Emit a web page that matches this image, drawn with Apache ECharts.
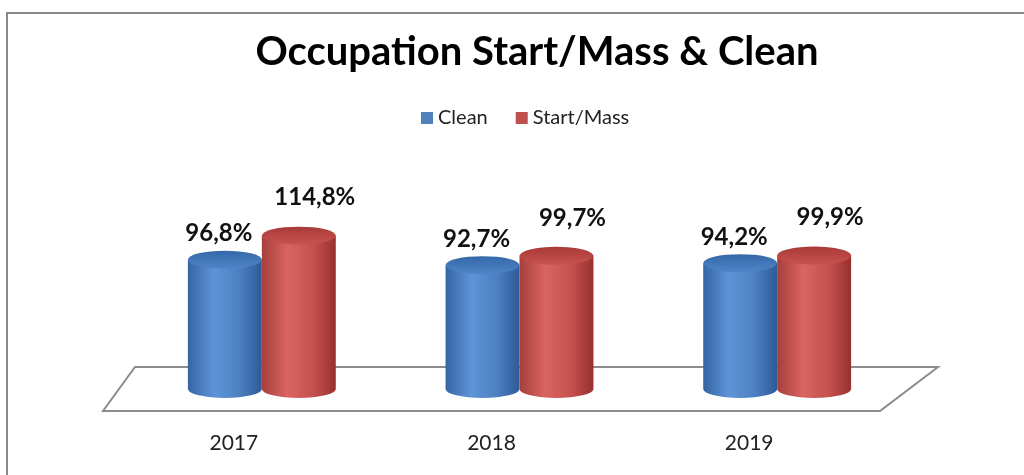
<!DOCTYPE html>
<html>
<head>
<meta charset="utf-8">
<script src="https://cdn.jsdelivr.net/npm/echarts@6/dist/echarts.min.js"></script>
<style>
html,body{margin:0;padding:0;background:#fff;}
#main{width:1024px;height:475px;}
</style>
</head>
<body>
<div id="main"></div>
<script>
var years = ['2017', '2018', '2019'];
var cleanValues = [96.8, 92.7, 94.2];
var startMassValues = [114.8, 99.7, 99.9];
var seriesNames = ['Clean', 'Start/Mass'];

var FONT = 'Lato, "Open Sans", sans-serif';

// colours for each cylinder: [edge, light, mid, dark edge]
var palettes = {
    'Clean': {solid: '#4f81bd', body: ['#3565a3', '#5e94d8', '#4c80c2', '#2d5a96'], top: ['#3468a8', '#4f84c8']},
    'Start/Mass': {solid: '#c0504d', body: ['#a63f3d', '#da6461', '#c4514e', '#98302f'], top: ['#a83a38', '#c9524f']}
};

function fmt(v){
    return v.toFixed(1).replace('.', ',') + '%'
}

function makeCylinder(name, side, labelDx, labelDy){
    var pal = palettes[name];
    return function(params, api){
        var idx = api.value(0), val = api.value(1);
        var top = api.coord([idx, val]);
        var base = api.coord([idx, 0]);
        var band = api.size([1, 0])[0];
        var w = band * 0.287;
        var cx = top[0] + side * w / 2;
        var rx = w / 2, ry = 9;
        var l = cx - rx, r = cx + rx;
        var ty = top[1], by = base[1];
        var body = 'M' + l + ' ' + ty + ' L' + l + ' ' + by +
            ' A' + rx + ' ' + ry + ' 0 0 0 ' + r + ' ' + by +
            ' L' + r + ' ' + ty + ' Z';
        var cap = 'M' + l + ' ' + ty +
            ' A' + rx + ' ' + ry + ' 0 1 0 ' + r + ' ' + ty +
            ' A' + rx + ' ' + ry + ' 0 1 0 ' + l + ' ' + ty + ' Z';
        return {
            type: 'group',
            children: [{
                type: 'path',
                shape: {pathData: body},
                style: {
                    fill: new echarts.graphic.LinearGradient(0, 0, 1, 0, [
                        {offset: 0, color: pal.body[0]},
                        {offset: 0.35, color: pal.body[1]},
                        {offset: 0.7, color: pal.body[2]},
                        {offset: 1, color: pal.body[3]}
                    ])
                }
            }, {
                type: 'path',
                shape: {pathData: cap},
                style: {
                    fill: new echarts.graphic.LinearGradient(0, 0, 0, 1, [
                        {offset: 0, color: pal.top[0]},
                        {offset: 1, color: pal.top[1]}
                    ])
                }
            }, {
                type: 'text',
                style: {
                    text: fmt(val),
                    x: cx + labelDx,
                    y: ty - labelDy,
                    align: 'center',
                    verticalAlign: 'middle',
                    textAlign: 'center',
                    textVerticalAlign: 'middle',
                    font: 'bold 24px ' + FONT,
                    fill: '#111'
                }
            }]
        }
    }
}

// floor plane under the bars
function renderFloor(params, api){
    var cs = params.coordSys;
    var baseY = api.coord([0, 0])[1];
    var x0 = cs.x, x1 = cs.x + cs.width;
    return {
        type: 'polygon',
        shape: {points: [
            [x0 + 2, baseY - 22], [x1 + 32, baseY - 22],
            [x1 - 26, baseY + 22], [x0 - 30, baseY + 22]
        ]},
        style: {fill: '#fff', stroke: '#8c8c8c', lineWidth: 2},
        silent: true
    }
}

function toPairs(arr){
    return arr.map(function(v, i){ return [i, v] })
}

var myChart = echarts.init(document.getElementById('main'));
var option = {
    backgroundColor: '#fff',
    animation: false,
    graphic: [{
        type: 'rect',
        shape: {x: 7, y: 13, width: 1100, height: 600},
        style: {fill: 'none', stroke: '#8a8a8a', lineWidth: 2},
        silent: true
    }],
    title: {
        text: 'Occupation Start/Mass & Clean',
        left: 532,
        textAlign: 'center',
        top: 27,
        textStyle: {fontFamily: FONT, fontWeight: 'bold', fontSize: 40, color: '#000'}
    },
    legend: {
        data: seriesNames,
        left: 416,
        top: 103,
        icon: 'rect',
        itemWidth: 12,
        itemHeight: 12,
        itemGap: 28,
        textStyle: {fontFamily: FONT, fontSize: 20, color: '#222'}
    },
    grid: {left: 133, right: 118, top: 202, bottom: 86},
    xAxis: {
        type: 'category',
        data: years,
        axisLine: {show: false},
        axisTick: {show: false},
        axisLabel: {
            margin: 44,
            padding: [0, 56, 0, 0],
            fontFamily: FONT,
            fontSize: 21,
            color: '#222'
        }
    },
    yAxis: {type: 'value', min: 0, max: 140, show: false, splitLine: {show: false}},
    series: [{
        type: 'custom',
        name: 'floor',
        data: [[0, 0]],
        renderItem: renderFloor,
        z: 1,
        silent: true
    }, {
        type: 'custom',
        name: 'Clean',
        data: toPairs(cleanValues),
        encode: {x: 0, y: 1},
        itemStyle: {color: palettes['Clean'].solid},
        renderItem: makeCylinder('Clean', -1, -6, 26),
        z: 2
    }, {
        type: 'custom',
        name: 'Start/Mass',
        data: toPairs(startMassValues),
        encode: {x: 0, y: 1},
        itemStyle: {color: palettes['Start/Mass'].solid},
        renderItem: makeCylinder('Start/Mass', 1, 16, 38),
        z: 3
    }]
};
myChart.setOption(option);
</script>
</body>
</html>
